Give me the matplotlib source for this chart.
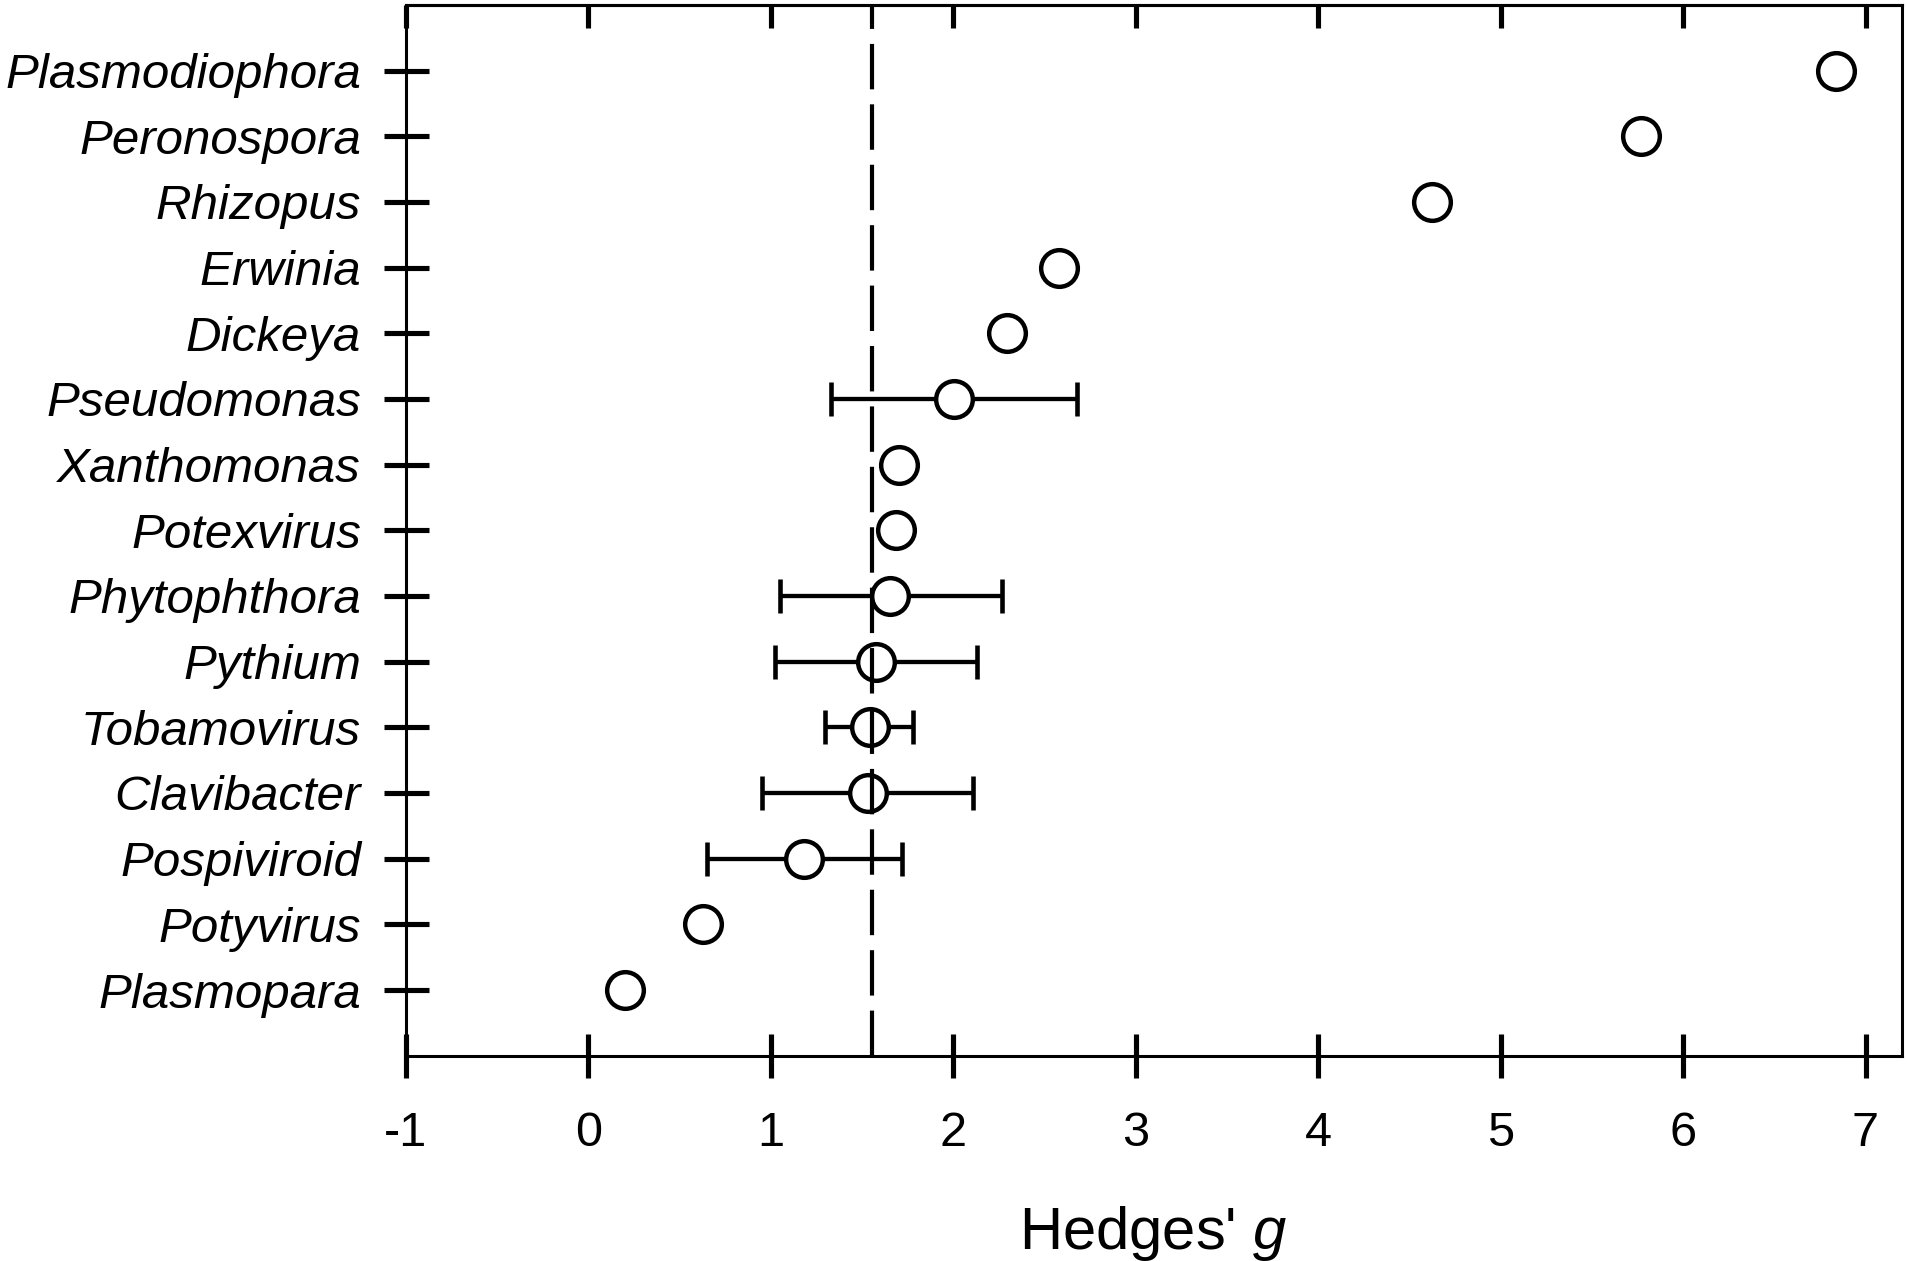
import matplotlib
matplotlib.use('Agg')
import matplotlib.pyplot as plt
import numpy as np

#####################################################
# data --->

genera = ['Plasmodiophora', 'Peronospora', 'Rhizopus', 'Erwinia', 'Dickeya',
          'Pseudomonas', 'Xanthomonas', 'Potexvirus', 'Phytophthora', 'Pythium',
          'Tobamovirus', 'Clavibacter', 'Pospiviroid', 'Potyvirus', 'Plasmopara']
g_val = [6.84, 5.767, 4.625, 2.58, 2.294,
         2.005, 1.70, 1.686, 1.655, 1.576,
         1.543, 1.530, 1.183, 0.628, 0.20]
ci_low = [np.nan, np.nan, np.nan, np.nan, np.nan,
          1.33, np.nan, np.nan, 1.05, 1.022,
          1.296, 0.953, 0.648, np.nan, np.nan]
ci_high = [np.nan, np.nan, np.nan, np.nan, np.nan,
           2.68, np.nan, np.nan, 2.265, 2.131,
           1.781, 2.106, 1.720, np.nan, np.nan]
g_mean = 1.552
xticks = [-1, 0, 1, 2, 3, 4, 5, 6, 7]

# <--- data
#####################################################

plt.rcParams['font.family'] = 'Liberation Sans'
plt.rcParams['mathtext.fontset'] = 'custom'
plt.rcParams['mathtext.rm'] = 'Liberation Sans'
plt.rcParams['mathtext.it'] = 'Liberation Sans:italic'

W, H = 1907, 1261
fig = plt.figure(figsize=(W/100., H/100.), dpi=100)
ax = fig.add_axes([406./W, 1 - 1055.7/H, (1901.5-406.)/W, (1055.7-4.9)/H])

n = len(genera)
ypos = np.arange(n, 0, -1)
g = np.array(g_val)
lo = np.array(ci_low)
hi = np.array(ci_high)
has = ~np.isnan(lo)

# error bars with caps
ax.errorbar(g[has], ypos[has], xerr=[g[has]-lo[has], hi[has]-g[has]],
            fmt='none', ecolor='k', elinewidth=3.1, capsize=12, capthick=3.3, zorder=2)
# points
ax.plot(g, ypos, 'o', ms=26.4, mfc='white', mec='k', mew=3.2, zorder=3, linestyle='none')
# overall mean
ax.axvline(g_mean, color='k', lw=3.0, linestyle=(0, (10.9, 3.6)), zorder=4)

ax.set_xlim(-1, 7.197)
ax.set_ylim(0, 16)
ax.set_xticks(xticks)
ax.set_xticklabels([str(t) for t in xticks])
ax.set_yticks(ypos)
ax.set_yticklabels(genera, fontstyle='italic')

for sp in ax.spines.values():
    sp.set_linewidth(2.2)

ax.tick_params(axis='y', direction='inout', length=32.4, width=3.7, pad=16.2,
               labelsize=35.5, left=True, right=False)
ax.tick_params(axis='x', direction='inout', length=31.7, width=3.7, pad=23.8,
               labelsize=35, bottom=True, top=False)

# top ticks point inward only
top = ax.secondary_xaxis('top')
top.set_xticks(xticks)
top.tick_params(axis='x', direction='in', length=16.5, width=3.7, labeltop=False)
top.spines['top'].set_linewidth(2.2)

ax.set_xlabel(r"Hedges' $\mathit{g}$", fontsize=43, labelpad=34.5)

fig.savefig('out.png', dpi=100)
